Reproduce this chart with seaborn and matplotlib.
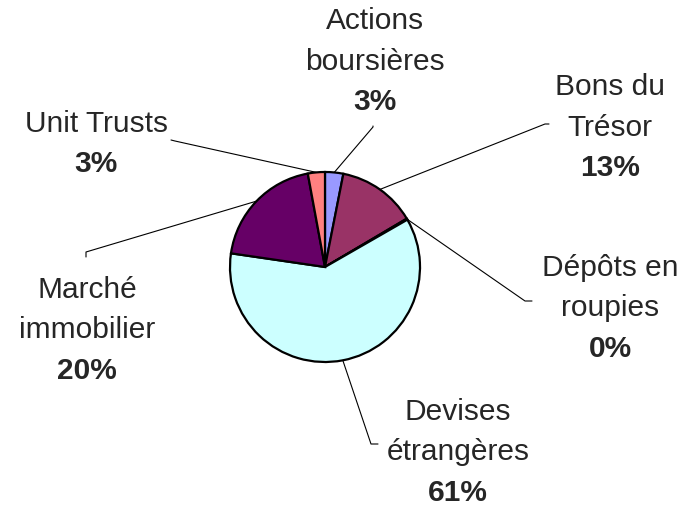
import numpy as np
import matplotlib
matplotlib.use("Agg")
import matplotlib.pyplot as plt
import seaborn as sns

sns.set_style("white")
plt.rcParams["font.family"] = ["Liberation Sans", "DejaVu Sans"]

# data
categories = ["Actions boursières", "Bons du Trésor", "Dépôts en roupies",
              "Devises étrangères", "Marché immobilier", "Unit Trusts"]
label_lines = [["Actions", "boursières"], ["Bons du", "Trésor"], ["Dépôts en", "roupies"],
               ["Devises", "étrangères"], ["Marché", "immobilier"], ["Unit Trusts"]]
shares = [3.1, 13.4, 0.2, 60.6, 19.8, 2.9]
pct_labels = ["3%", "13%", "0%", "61%", "20%", "3%"]
colors = ["#9999FF", "#993366", "#FFFFCC", "#CCFFFF", "#660066", "#FF8080"]

W, H = 684, 506
fig = plt.figure(figsize=(6.84, 5.06), dpi=100)
ax = fig.add_axes([0, 0, 1, 1])

cx, cy, r = 325, H - 268, 95
wedges, _ = ax.pie(shares, colors=colors, startangle=90, counterclock=False,
                   center=(cx, cy), radius=r, frame=True,
                   wedgeprops=dict(edgecolor="black", linewidth=1.6))
ax.set_xlim(0, W)
ax.set_ylim(0, H)
ax.axis("off")

# label layout in pixels (x center, y of first line center), leader elbow and tick end
label_pos = [(375, 21), (610, 87), (610, 268), (458, 412), (87, 290), (96, 124)]
elbows = [(373, 128), (545, 125), (525, 302), (371, 445), (86, 253), (175, 142)]
ticks = [(373, 127), (549, 125), (532, 302), (378, 445), (86, 258), (171, 141)]
line_h = 40.5

for w, lines, pct, (lx, ly), el, tk in zip(wedges, label_lines, pct_labels,
                                           label_pos, elbows, ticks):
    mid = np.deg2rad((w.theta1 + w.theta2) / 2)
    px, py = cx + r * np.cos(mid), cy + r * np.sin(mid)
    ax.plot([tk[0], el[0], px], [H - tk[1], H - el[1], py], color="black", lw=0.8)
    for i, t in enumerate(lines):
        ax.text(lx, H - (ly + i * line_h), t, ha="center", va="center", fontsize=21.5)
    ax.text(lx, H - (ly + len(lines) * line_h), pct, ha="center", va="center",
            fontsize=21.5, fontweight="bold")

fig.savefig("out.png", dpi=100)
